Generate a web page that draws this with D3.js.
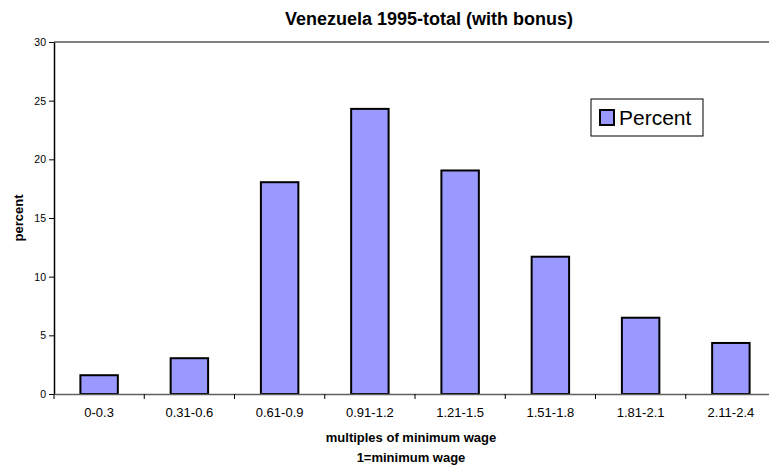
<!DOCTYPE html>
<html>
<head>
<meta charset="utf-8">
<script src="https://cdn.jsdelivr.net/npm/d3@7"></script>
<style>
  html, body { margin: 0; padding: 0; background: #fff; }
  svg { display: block; }
  text { font-family: Arial, "Liberation Sans", sans-serif; fill: #000; }
</style>
</head>
<body>
<svg id="chart" width="769" height="470"></svg>
<script>
const categories = ["0-0.3", "0.31-0.6", "0.61-0.9", "0.91-1.2", "1.21-1.5", "1.51-1.8", "1.81-2.1", "2.11-2.4"];
const percentValues = [1.6, 3.05, 18.05, 24.3, 19.05, 11.7, 6.5, 4.35];
const yTicks = [0, 5, 10, 15, 20, 25, 30];
const seriesName = "Percent";
const titleText = "Venezuela 1995-total (with bonus)";
const xTitle1 = "multiples of minimum wage";
const xTitle2 = "1=minimum wage";
const yTitle = "percent";

const svg = d3.select("#chart");
const plot = { left: 54, right: 776, top: 42, bottom: 394 };

const x = d3.scaleBand()
  .domain(categories)
  .range([plot.left, plot.right])
  .paddingInner(0.585)
  .paddingOuter(0.2925);

const y = d3.scaleLinear().domain([0, 30]).range([plot.bottom, plot.top]);

// plot area top border
svg.append("line")
  .attr("x1", plot.left).attr("x2", plot.right)
  .attr("y1", plot.top).attr("y2", plot.top)
  .attr("stroke", "#808080").attr("stroke-width", 2);

// bars
svg.append("g").selectAll("rect")
  .data(categories.map((c, i) => ({ c, v: percentValues[i] })))
  .join("rect")
  .attr("x", d => x(d.c))
  .attr("width", x.bandwidth())
  .attr("y", d => y(d.v))
  .attr("height", d => y(0) - y(d.v))
  .attr("fill", "#9999ff")
  .attr("stroke", "#000")
  .attr("stroke-width", 2);

// y axis
const yAxis = svg.append("g")
  .attr("transform", `translate(${plot.left},0)`)
  .call(d3.axisLeft(y).tickValues(yTicks).tickSize(5).tickPadding(3).tickSizeOuter(0));
yAxis.select(".domain").attr("stroke", "#000").attr("stroke-width", 1.5);
yAxis.selectAll(".tick line").attr("stroke", "#000");
yAxis.selectAll(".tick text").style("font-size", "10.5px").attr("font-family", "Arial, 'Liberation Sans', sans-serif");

// x axis: labels centered, ticks at category boundaries
const xAxis = svg.append("g")
  .attr("transform", `translate(0,${plot.bottom})`)
  .call(d3.axisBottom(x).tickSize(0).tickPadding(14).tickSizeOuter(0));
xAxis.select(".domain").attr("stroke", "#606060").attr("stroke-width", 1.5);
xAxis.selectAll(".tick text").style("font-size", "13px").attr("font-family", "Arial, 'Liberation Sans', sans-serif");

const boundaries = d3.range(categories.length + 1).map(i => x.range()[0] + i * x.step());
svg.append("g").selectAll("line")
  .data(boundaries)
  .join("line")
  .attr("x1", d => d).attr("x2", d => d)
  .attr("y1", plot.bottom).attr("y2", plot.bottom + 5)
  .attr("stroke", "#000").attr("stroke-width", 1);

// title
svg.append("text")
  .attr("x", 429).attr("y", 25)
  .attr("text-anchor", "middle")
  .style("font-size", "18px").style("font-weight", "bold")
  .text(titleText);

// x titles
svg.append("text")
  .attr("x", 411).attr("y", 442)
  .attr("text-anchor", "middle")
  .style("font-size", "13px").style("font-weight", "bold")
  .text(xTitle1);
svg.append("text")
  .attr("x", 411).attr("y", 462)
  .attr("text-anchor", "middle")
  .style("font-size", "13px").style("font-weight", "bold")
  .text(xTitle2);

// y title
svg.append("text")
  .attr("transform", `translate(23,${(plot.top + plot.bottom) / 2}) rotate(-90)`)
  .attr("text-anchor", "middle")
  .style("font-size", "13px").style("font-weight", "bold")
  .text(yTitle);

// legend
const lg = svg.append("g");
lg.append("rect")
  .attr("x", 591).attr("y", 99).attr("width", 112).attr("height", 37)
  .attr("fill", "#fff").attr("stroke", "#000").attr("stroke-width", 1);
lg.append("rect")
  .attr("x", 600).attr("y", 110).attr("width", 14).attr("height", 15)
  .attr("fill", "#9999ff").attr("stroke", "#000").attr("stroke-width", 2);
lg.append("text")
  .attr("x", 619).attr("y", 125)
  .style("font-size", "21px")
  .text(seriesName);
</script>
</body>
</html>
